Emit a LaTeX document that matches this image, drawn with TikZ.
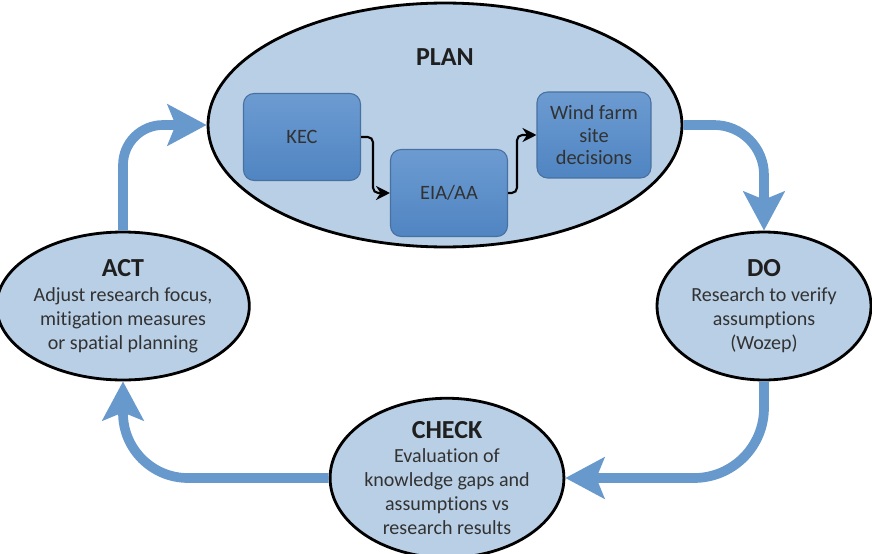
\documentclass[tikz,border=0pt]{standalone}
\usepackage{fontspec}
\setmainfont{Carlito}[Ligatures=NoCommon]
\usetikzlibrary{arrows.meta,shapes.geometric}

\definecolor{cyclefill}{RGB}{185,207,230}
\definecolor{cyclearrow}{RGB}{104,153,205}
\definecolor{boxtop}{RGB}{108,155,209}
\definecolor{boxbottom}{RGB}{80,133,194}
\definecolor{boxline}{RGB}{72,112,160}
\definecolor{textgray}{RGB}{50,50,50}

\tikzset{
  stage/.style={ellipse, draw=black, line width=1.6pt, fill=cyclefill, inner sep=0pt,
    align=center, text=textgray, font=\fontsize{11.4}{13.6}\selectfont},
  planbox/.style={rectangle, rounded corners=6pt, draw=boxline, line width=0.6pt,
    top color=boxtop, bottom color=boxbottom, minimum width=2.34cm, minimum height=1.74cm,
    align=center, text=textgray, font=\fontsize{11.6}{13}\selectfont},
  cycle/.style={cyclearrow, line width=5.5pt,
    -{Stealth[length=0.78cm, width=0.82cm, inset=0.16cm]}},
  innerarrow/.style={black, line width=1.2pt, rounded corners=3pt,
    -{Stealth[length=2.8mm, width=2.8mm]}}
}
\newcommand{\stagetitle}[1]{{\fontsize{14.8}{17}\selectfont\bfseries\color{black!88}#1}}

\begin{document}
\begin{tikzpicture}[x=0.02cm, y=-0.02cm]
\useasboundingbox (0,0) rectangle (872,554);

% plan stage with its three steps
\node[stage, minimum width=9.48cm, minimum height=4.88cm] (plan) at (445,125) {};
\node[text=black!88] (plantitle) at (445,57) {\stagetitle{PLAN}};
\node[planbox] (kec) at (302,137) {KEC};
\node[planbox] (eia) at (449,193) {EIA/AA};
\node[planbox, minimum width=2.28cm, minimum height=1.72cm] (wind) at (594,135) {Wind farm\\ site\\ decisions};
\draw[innerarrow] (kec.east) -- ++(12,0) |- (eia.west);
\draw[innerarrow] (eia.east) -- ++(9,0) |- (wind.west);

% the other stages
\node[stage, minimum width=4.28cm, minimum height=2.96cm] (do) at (764,306)
  {\stagetitle{DO}\\[1pt] Research to verify\\ assumptions\\ (Wozep)};
\node[stage, minimum width=4.56cm, minimum height=3.0cm] (check) at (447,478)
  {\stagetitle{CHECK}\\[0pt] Evaluation of\\ knowledge gaps and\\ assumptions vs\\ research results};
\node[stage, minimum width=4.52cm, minimum height=2.96cm] (act) at (123,306)
  {\stagetitle{ACT}\\[1pt] Adjust research focus,\\ mitigation measures\\ or spatial planning};

% cycle arrows
\draw[cycle, rounded corners=0.8cm] (act) |- (plan);
\draw[cycle, rounded corners=1.0cm] (plan) -| (do);
\draw[cycle, rounded corners=1.4cm] (do) |- (check);
\draw[cycle, rounded corners=1.3cm] (check) -| (act);
\end{tikzpicture}
\end{document}
